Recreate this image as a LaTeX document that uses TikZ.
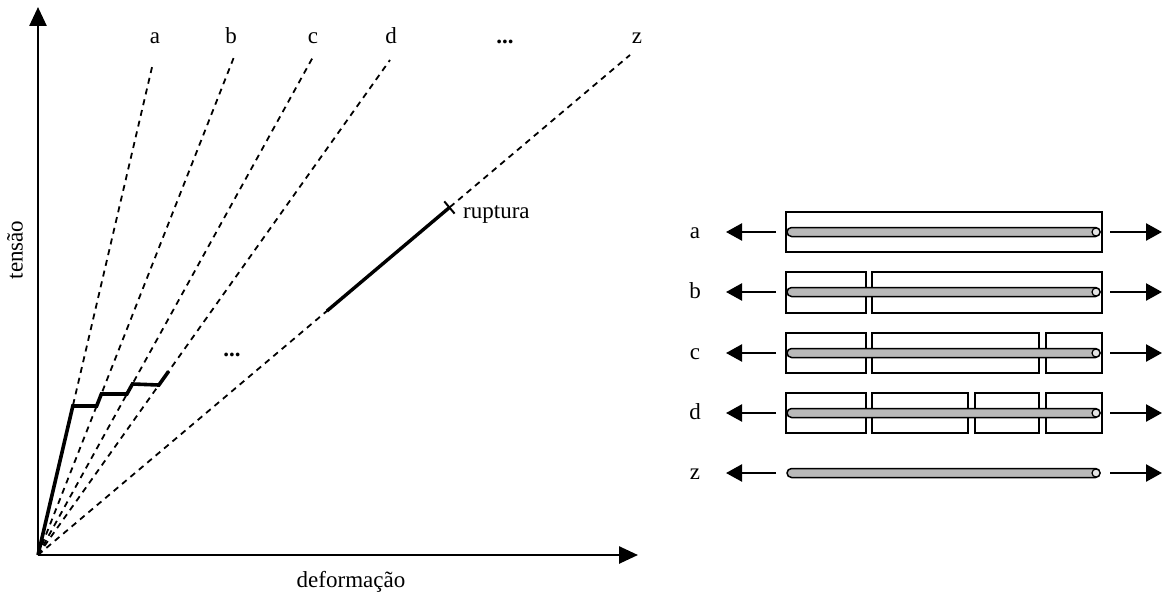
\documentclass[tikz,border=0pt]{standalone}
\usepackage{fontspec}
\setmainfont{Liberation Serif}
\usetikzlibrary{arrows.meta,calc}
\begin{document}
\begin{tikzpicture}[x=1pt,y=-1pt,
  lbl/.style={font=\fontsize{23}{26}\selectfont, inner sep=0pt},
  guide/.style={line width=1.8pt, dash pattern=on 6pt off 5pt},
  curve/.style={line width=3.6pt, line join=miter},
  axis/.style={line width=2.6pt, -{Triangle[length=19pt,width=17pt]}},
  pull/.style={line width=2.4pt, -{Triangle[length=16pt,width=17pt]}},
  seg/.style={draw, line width=1.6pt},
  rod/.style={draw, line width=1.5pt, fill=gray!55, rounded corners=4.5pt},
  rodend/.style={draw, line width=1.2pt, fill=gray!20, circle, inner sep=0pt, minimum size=8pt}
]
\useasboundingbox (0,0) rectangle (1165,594);

% ---------- stress-strain diagram ----------
\coordinate (O) at (38,555);
\coordinate (ytip) at (38,7);
\coordinate (xtip) at (638,555);
\draw[axis] (O) -- (ytip);
\draw[axis] (O) -- (xtip);

\node[lbl, rotate=90] (ylab) at (15,250) {tensão};
\node[lbl, anchor=base] (xlab) at (351,587) {deformação};

% guide lines of each stage
\coordinate (ta) at (153,63);
\coordinate (tb) at (234,57);
\coordinate (tc) at (313,57);
\coordinate (td) at (390,60);
\coordinate (tz) at (630,55);
\foreach \t in {ta,tb,tc,td,tz}
  \draw[guide] (O) -- (\t);

\node[lbl, anchor=base] (la) at (155,44) {a};
\node[lbl, anchor=base] (lb) at (231,44) {b};
\node[lbl, anchor=base] (lc) at (313,44) {c};
\node[lbl, anchor=base] (ld) at (391,44) {d};
\node[lbl, anchor=base] (ldots) at (505,44) {\textbf{...}};
\node[lbl, anchor=base] (lz) at (637,44) {z};
\node[lbl, anchor=base] (mdots) at (232,356) {\textbf{...}};

% successive cracking steps
\coordinate (p1) at ($(O)!0.3029!(ta)$);
\coordinate (p2) at ($(O)!0.2992!(tb)$);
\coordinate (p3) at ($(O)!0.3233!(tb)$);
\coordinate (p4) at ($(O)!0.3233!(tc)$);
\coordinate (p5) at ($(O)!0.3434!(tc)$);
\coordinate (p6) at ($(O)!0.3434!(td)$);
\coordinate (p7) at ($(O)!0.371!(td)$);
\draw[curve] (O) -- (p1) -- (p2) -- (p3) -- (p4) -- (p5) -- (p6) -- (p7);

% final stage up to rupture
\coordinate (r0) at ($(O)!0.488!(tz)$);
\coordinate (r1) at ($(O)!0.695!(tz)$);
\draw[line width=3.4pt] (r0) -- (r1);
\draw[line width=2pt] ($(r1)!8pt!90:(tz)$) -- ($(r1)!8pt!-90:(tz)$);
\node[lbl, anchor=base west] (rup) at (463,218) {ruptura};

% ---------- specimens under tension ----------
\foreach \n/\y in {a/232,b/292,c/353,d/413,z/473}{
  \node[lbl, anchor=base] (s\n) at (695,\y+6) {\n};
  \coordinate (la\n) at (776,\y);
  \coordinate (lt\n) at (726,\y);
  \coordinate (ra\n) at (1110,\y);
  \coordinate (rt\n) at (1162,\y);
  \draw[pull] (la\n) -- (lt\n);
  \draw[pull] (ra\n) -- (rt\n);
}

% matrix blocks
\draw[seg] (786,212) rectangle (1102,252);
\draw[seg] (786,272) rectangle (866,313);
\draw[seg] (872,272) rectangle (1102,313);
\draw[seg] (786,333) rectangle (866,373);
\draw[seg] (872,333) rectangle (1039,373);
\draw[seg] (1046,333) rectangle (1102,373);
\draw[seg] (786,393) rectangle (866,433);
\draw[seg] (872,393) rectangle (968,433);
\draw[seg] (975,393) rectangle (1039,433);
\draw[seg] (1046,393) rectangle (1102,433);

% reinforcing bars
\foreach \n/\y in {a/232,b/292,c/353,d/413,z/473}{
  \draw[rod] (787,\y-4.5) rectangle (1100,\y+4.5);
  \node[rodend] (e\n) at (1096,\y) {};
}
\end{tikzpicture}
\end{document}
